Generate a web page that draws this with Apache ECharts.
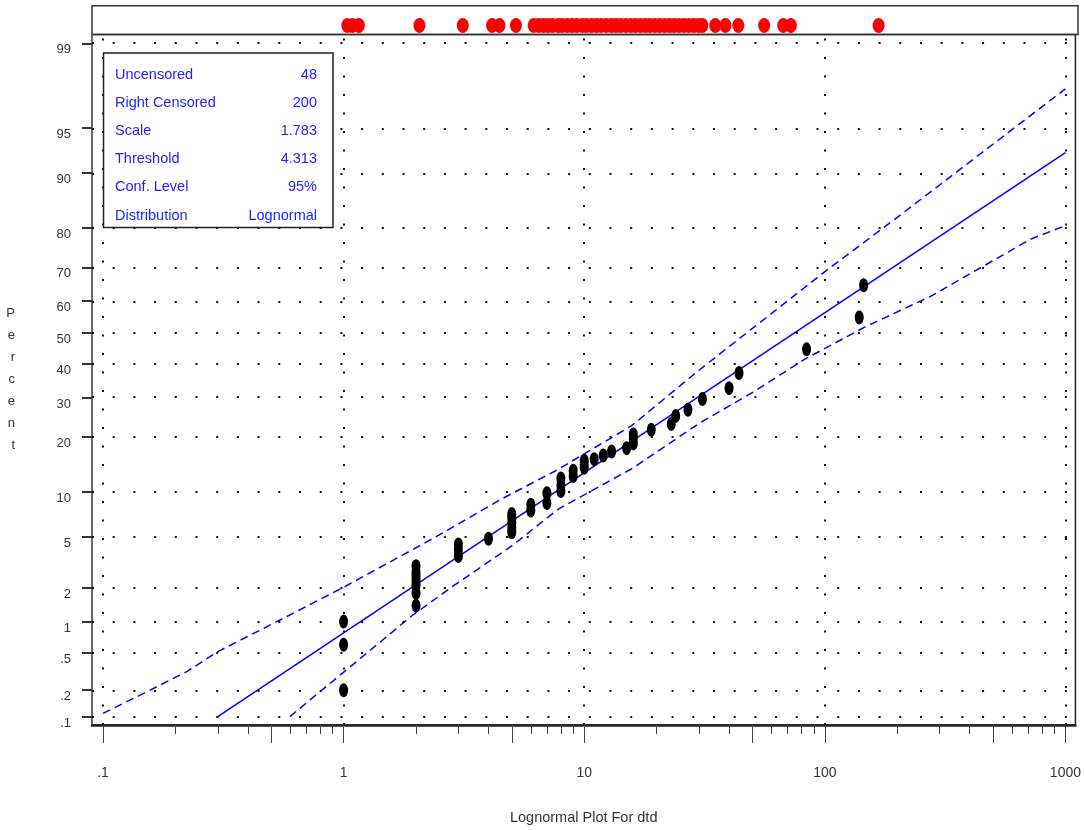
<!DOCTYPE html>
<html>
<head>
<meta charset="utf-8">
<script src="https://cdn.jsdelivr.net/npm/echarts@6/dist/echarts.min.js"></script>
<style>
html,body{margin:0;padding:0;background:#fff;}
#chart{width:1084px;height:830px;}
</style>
</head>
<body>
<div id="chart"></div>
<script>
// ---------------- data ----------------
const yTickLabels = ['99','95','90','80','70','60','50','40','30','20','10','5','2','1','.5','.2','.1'];
const yTickPercents = [99,95,90,80,70,60,50,40,30,20,10,5,2,1,0.5,0.2,0.1];
const xLabelValues = [0.1,1,10,100,1000];
const xLabelTexts = ['.1','1','10','100','1000'];
const xMajorTicks = [0.1,0.5,1,5,10,50,100,500,1000];
const xMinorTicks = [0.2,0.3,0.4,0.6,0.7,0.8,0.9,2,3,4,6,7,8,9,20,30,40,60,70,80,90,200,300,400,600,700,800,900];

const uncensoredTime = [1,1,1, 2,2,2,2,2,2,2, 3,3,3, 4, 5,5,5,5,5, 6,6, 7,7, 8,8,8, 9,9, 10,10,10,
  11,12,13,15, 16,16,16, 19,23,24,27,31,40,44,84,139,145];
const uncensoredPercent = [0.2,0.6,1.0, 1.4,1.8,2.1,2.3,2.5,2.7,3.0, 3.6,4.0,4.4, 4.85, 5.4,5.8,6.3,6.8,7.2,
  7.6,8.3, 8.5,9.8, 10.1,11.0,12.0, 12.4,13.3, 13.8,14.5,15.1,
  15.4,16.1,16.9,17.6, 18.6,19.6,20.6, 21.7,23.1,25.1,26.7,29.6,32.7,37.2,44.6,54.8,64.8];

const censoredTime = [1.03,1.08,1.15, 2.05, 3.1, 4.1,4.4, 5.15,
  6.1,6.4,6.7,7.0,7.3,7.7,8.0,8.4,8.8,9.2,9.7,10.1,10.6,11.1,11.6,12.2,12.8,13.4,14.0,14.7,15.4,16.1,
  16.9,17.7,18.5,19.4,20.3,21.3,22.3,23.3,24.4,25.6,26.8,28.1,29.4,30.5,
  34.5,38,43, 55, 66,71, 164];

const fitTime = [0.3, 1000];
const fitPercent = [0.1, 92.6];
const upperTime = [0.1,0.142,0.224,0.301,0.528,1.01,2.34,4.55,7.62,15.7,29.8,102.9,194.4,1000];
const upperPercent = [0.109,0.175,0.32,0.514,1.0,2.04,4.85,9.04,13.3,22.6,37.9,69.4,81.8,97.5];
const lowerTime = [0.598,1.01,1.93,2.83,5.01,7.84,15.7,29.8,51.3,82.6,146.5,275,713,1000];
const lowerPercent = [0.1,0.32,1.14,2.04,4.31,7.8,13.6,23.1,31.9,41.5,51.7,61.4,77.3,80.5];

const legendLabels = ['Uncensored','Right Censored','Scale','Threshold','Conf. Level','Distribution'];
const legendValues = ['48','200','1.783','4.313','95%','Lognormal'];

// ---------------- helpers ----------------
function probit(p){
  const a=[-3.969683028665376e+01,2.209460984245205e+02,-2.759285104469687e+02,1.383577518672690e+02,-3.066479806614716e+01,2.506628277459239e+00];
  const b=[-5.447609879822406e+01,1.615858368580409e+02,-1.556989798598866e+02,6.680131188771972e+01,-1.328068155288572e+01];
  const c=[-7.784894002430293e-03,-3.223964580411365e-01,-2.400758277161838e+00,-2.549732517184102e+00,4.374664141464968e+00,2.938163982698783e+00];
  const d=[7.784695709041462e-03,3.224671290700398e-01,2.445134137142996e+00,3.754408661907416e+00];
  const pl=0.02425, ph=1-pl; let q,r;
  if(p<pl){q=Math.sqrt(-2*Math.log(p));return (((((c[0]*q+c[1])*q+c[2])*q+c[3])*q+c[4])*q+c[5])/((((d[0]*q+d[1])*q+d[2])*q+d[3])*q+1);}
  if(p<=ph){q=p-0.5;r=q*q;return (((((a[0]*r+a[1])*r+a[2])*r+a[3])*r+a[4])*r+a[5])*q/(((((b[0]*r+b[1])*r+b[2])*r+b[3])*r+b[4])*r+1);}
  q=Math.sqrt(-2*Math.log(1-p));return -(((((c[0]*q+c[1])*q+c[2])*q+c[3])*q+c[4])*q+c[5])/((((d[0]*q+d[1])*q+d[2])*q+d[3])*q+1);
}
const lx = v => Math.log10(v);
const pz = pc => probit(pc/100);
const pairs = (ts, ps) => ts.map((t,i)=>[lx(t), pz(ps[i])]);

const XMIN = -1.0456, XMAX = 3.0415;
const YMIN = -3.158, YMAX = 2.397;
const yTickZ = yTickPercents.map(pz);
const xLabelLog = xLabelValues.map(lx);

function nearestIdx(arr, v){
  let bi=0, bd=Infinity;
  arr.forEach((a,i)=>{const d=Math.abs(a-v); if(d<bd){bd=d;bi=i;}});
  return bi;
}

const FONT = '"Liberation Sans", Arial, sans-serif';
const BLUE = '#0000ff';

const chart = echarts.init(document.getElementById('chart'), null, {renderer:'canvas'});

const legendChildren = [{
  type:'rect', z:100, shape:{x:103.5,y:53,width:229.5,height:174.5},
  style:{fill:'#fff',stroke:'#222',lineWidth:1.5}
}];
legendLabels.forEach((t,i)=>{
  const y = 75 + i*28.1;
  legendChildren.push({type:'text', z:101, x:115, y:y, style:{text:t, fill:'#2222ff', font:'14.5px '+FONT, textVerticalAlign:'middle', textAlign:'left'}});
  legendChildren.push({type:'text', z:101, x:317, y:y, style:{text:legendValues[i], fill:'#2222ff', font:'14.5px '+FONT, textVerticalAlign:'middle', textAlign:'right'}});
});

const option = {
  backgroundColor:'#fff',
  animation:false,
  grid:[
    {left:92, right:6, top:34.5, bottom:103.3, show:true, borderColor:'#222', borderWidth:1.5, backgroundColor:'transparent'},
    {left:92, right:6, top:5.7, height:28.8, show:true, borderColor:'#333', borderWidth:1.5, backgroundColor:'transparent'}
  ],
  xAxis:[
    {type:'value', gridIndex:0, min:XMIN, max:XMAX, position:'bottom',
      axisLine:{show:true, onZero:false, lineStyle:{color:'#222', width:2.5}},
      axisTick:{show:true, customValues:xMajorTicks.map(lx), length:18, lineStyle:{color:'#444', width:1}},
      axisLabel:{show:true, customValues:xLabelLog, margin:41, fontSize:14, fontFamily:FONT, color:'#333',
        formatter:v=>xLabelTexts[nearestIdx(xLabelLog, v)]},
      splitLine:{show:false},
      name:'Lognormal Plot For dtd', nameLocation:'middle', nameGap:85,
      nameTextStyle:{fontSize:14.5, fontFamily:FONT, color:'#333'}
    },
    {type:'value', gridIndex:0, min:XMIN, max:XMAX, position:'bottom', offset:0,
      axisLine:{show:false, onZero:false},
      axisTick:{show:true, customValues:xMinorTicks.map(lx), length:9, lineStyle:{color:'#444', width:1}},
      axisLabel:{show:false}, splitLine:{show:false}
    },
    {type:'value', gridIndex:1, min:XMIN, max:XMAX, show:false}
  ],
  yAxis:[
    {type:'value', gridIndex:0, min:YMIN, max:YMAX,
      axisLine:{show:true, onZero:false, lineStyle:{color:'#666', width:2}},
      axisTick:{show:true, customValues:yTickZ, length:10, lineStyle:{color:'#333', width:2}},
      axisLabel:{show:true, customValues:yTickZ, margin:21, fontSize:13, fontFamily:FONT, color:'#333', verticalAlign:'top',
        formatter:v=>yTickLabels[nearestIdx(yTickZ, v)]},
      splitLine:{show:false},
      name:'P\ne\nr\nc\ne\nn\nt', nameLocation:'middle', nameRotate:0, nameGap:77,
      nameTextStyle:{fontSize:13, fontFamily:FONT, color:'#333', lineHeight:22, padding:[0,0,24,0]}
    },
    {type:'value', gridIndex:1, min:0, max:1, show:false}
  ],
  series:[
    {type:'line', xAxisIndex:0, yAxisIndex:0, data:[], silent:true, z:1,
      markLine:{silent:true, symbol:['none','none'], label:{show:false},
        data:[
          ...yTickZ.map(z=>({yAxis:z, lineStyle:{type:[2,18.7], color:'#111', width:2}})),
          ...xLabelLog.map(x=>({xAxis:x, lineStyle:{type:[2,16.5], color:'#111', width:2}}))
        ]}
    },
    {type:'line', xAxisIndex:0, yAxisIndex:0, data:pairs(fitTime, fitPercent), showSymbol:false, silent:true,
      lineStyle:{color:BLUE, width:1.5}, z:3},
    {type:'line', xAxisIndex:0, yAxisIndex:0, data:pairs(upperTime, upperPercent), showSymbol:false, silent:true,
      lineStyle:{color:BLUE, width:1.5, type:[8,5]}, z:3},
    {type:'line', xAxisIndex:0, yAxisIndex:0, data:pairs(lowerTime, lowerPercent), showSymbol:false, silent:true,
      lineStyle:{color:BLUE, width:1.5, type:[8,5]}, z:3},
    {type:'scatter', xAxisIndex:0, yAxisIndex:0, data:pairs(uncensoredTime, uncensoredPercent),
      symbol:'circle', symbolSize:[9,14], itemStyle:{color:'#000', opacity:1}, silent:true, z:4},
    {type:'scatter', xAxisIndex:2, yAxisIndex:1, data:censoredTime.map(t=>[lx(t), 0.3125]),
      symbol:'circle', symbolSize:[12,15], itemStyle:{color:'#ff0000', opacity:1}, silent:true, z:4}
  ],
  graphic:[{type:'group', z:100, children:legendChildren}]
};
chart.setOption(option);
</script>
</body>
</html>
